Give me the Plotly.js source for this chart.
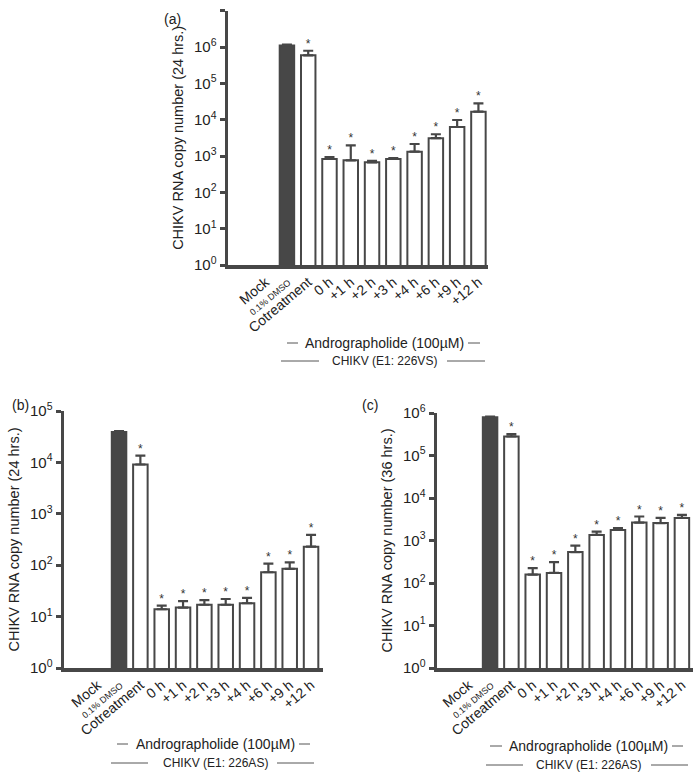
<!DOCTYPE html>
<html><head><meta charset="utf-8">
<script src="https://cdn.plot.ly/plotly-3.0.1.min.js"></script>
<style>body{margin:0;padding:0;background:#fff}#chart{width:697px;height:773px}</style>
</head><body><div id="chart"></div>
<script>
// ---- data ----
const categories = ["Mock","0.1% DMSO","Cotreatment","0 h","+1 h","+2 h","+3 h","+4 h","+6 h","+9 h","+12 h"];
const tickLabels = ["Mock","<span style=\"font-size:9px\">0.1% DMSO</span>","Cotreatment","0 h","+1 h","+2 h","+3 h","+4 h","+6 h","+9 h","+12 h"];
const significance = ["","","*","*","*","*","*","*","*","*","*"];

const meanA = [null, 1.1e6, 5.9e5, 830, 760, 670, 830, 1320, 3100, 6300, 16600];
const errA  = [null, 6e4,   2e5,   110, 1200, 70,  40,  820,  870,  3500, 11400];

const meanB = [null, 3.9e4, 9100, 13.9, 15, 17, 17, 18.2, 73, 85, 229];
const errB  = [null, 1500,  4400, 2.5,  5,  4,  5,  5,    34, 28, 160];

const meanC = [null, 7.9e5, 2.8e5, 158, 173, 535, 1350, 1770, 2640, 2570, 3400];
const errC  = [null, 3e4,   4e4,   67,  137, 225, 270,  190,  1030, 830,  600];

const yTitleA = "CHIKV RNA copy number (24 hrs.)";
const yTitleB = "CHIKV RNA copy number (24 hrs.)";
const yTitleC = "CHIKV RNA copy number (36 hrs.)";
const drugLabel = "Andrographolide (100µM)";
const virusA = "CHIKV (E1: 226VS)";
const virusB = "CHIKV (E1: 226AS)";
const virusC = "CHIKV (E1: 226AS)";

// ---- layout helpers ----
const W = 697, H = 773;
const px = x => x / W;
const py = y => 1 - y / H;
const DARK = "#474747";
const FONT = "Liberation Sans, Arial, sans-serif";

function panelTraces(mean, err, xa, ya) {
  const colors = categories.map((c, i) => i === 1 ? DARK : "#ffffff");
  const bar = {
    type: "bar", x: categories, y: mean, xaxis: xa, yaxis: ya,
    width: 0.68,
    marker: {color: colors, line: {color: DARK, width: 2}},
    error_y: {type: "data", symmetric: false, array: err, arrayminus: err.map(() => 0),
              color: DARK, thickness: 2.2, width: 5},
    showlegend: false, hoverinfo: "x+y"
  };
  const idx = categories.map((c, i) => i).filter(i => significance[i]);
  const stars = {
    type: "scatter", mode: "text",
    x: idx.map(i => categories[i]),
    y: idx.map(i => mean[i] + err[i]),
    text: idx.map(i => significance[i]), textposition: "top center",
    textfont: {size: 12, color: "#333", family: FONT},
    xaxis: xa, yaxis: ya, showlegend: false, hoverinfo: "skip", cliponaxis: false
  };
  return [bar, stars];
}

function xAxis(domain, range) {
  return {
    domain: domain, type: "category", range: range,
    categoryorder: "array", categoryarray: categories,
    tickvals: categories, ticktext: tickLabels, tickangle: -40,
    ticks: "", showgrid: false, zeroline: false,
    showline: true, linecolor: DARK, linewidth: 3.5,
    tickfont: {size: 14, family: FONT, color: "#222"}, automargin: false
  };
}
function yAxis(domain, maxExp, anchor, title) {
  const vals = [], txt = [];
  for (let e = 0; e <= maxExp; e++) { vals.push(Math.pow(10, e)); txt.push("10<sup>" + e + "</sup>"); }
  return {
    domain: domain, type: "log", range: [0, maxExp], anchor: anchor,
    tickvals: vals, ticktext: txt, ticks: "outside", ticklen: 5, tickwidth: 3, tickcolor: DARK,
    showgrid: false, zeroline: false, showline: true, linecolor: DARK, linewidth: 3.5,
    tickfont: {size: 15, family: FONT, color: "#222"}, automargin: false,
    title: {text: title, font: {size: 14.5, family: FONT, color: "#222"}, standoff: 8}
  };
}

const traces = [].concat(
  panelTraces(meanA, errA, "x", "y"),
  panelTraces(meanB, errB, "x2", "y2"),
  panelTraces(meanC, errC, "x3", "y3")
);

const annotations = [];
const shapes = [];
function caption(cx, y1, y2, l1, l2, text2) {
  annotations.push({xref: "paper", yref: "paper", x: px(cx), y: py(y1), text: drugLabel, showarrow: false,
    font: {size: 14, family: FONT, color: "#222"}, xanchor: "center", yanchor: "middle"});
  annotations.push({xref: "paper", yref: "paper", x: px(cx), y: py(y2), text: text2, showarrow: false,
    font: {size: 12, family: FONT, color: "#222"}, xanchor: "center", yanchor: "middle"});
  [[l1[0], l1[1], y1], [l1[2], l1[3], y1], [l2[0], l2[1], y2], [l2[2], l2[3], y2]].forEach(s => {
    shapes.push({type: "line", xref: "paper", yref: "paper", x0: px(s[0]), x1: px(s[1]), y0: py(s[2]), y1: py(s[2]),
      line: {color: "#555", width: 1}});
  });
}
caption(384, 343, 361, [287, 298, 468, 480], [281, 319, 447, 485], virusA);
caption(215, 744, 763, [117, 128, 299, 310], [111, 148, 277, 314], virusB);
caption(588, 746, 765, [490, 502, 672, 683], [486, 523, 651, 688], virusC);

annotations.push({xref: "paper", yref: "paper", x: px(162), y: py(9), text: "(a)", showarrow: false,
  font: {size: 14, family: FONT, color: "#222"}});
annotations.push({xref: "paper", yref: "paper", x: px(10), y: py(405), text: "(b)", showarrow: false,
  font: {size: 14, family: FONT, color: "#222"}});
annotations.push({xref: "paper", yref: "paper", x: px(370), y: py(405), text: "(c)", showarrow: false,
  font: {size: 14, family: FONT, color: "#222"}});

const layout = {
  width: W, height: H, margin: {l: 0, r: 0, t: 0, b: 0},
  paper_bgcolor: "#fff", plot_bgcolor: "#fff",
  font: {family: FONT, color: "#222"},
  bargap: 0.3,
  xaxis: Object.assign(xAxis([px(228), px(488)], [-1.77, 10.45]), {anchor: "y"}),
  yaxis: yAxis([py(265), py(10.7)], 7, "x", yTitleA),
  xaxis2: Object.assign(xAxis([px(64), px(323)], [-1.58, 10.56]), {anchor: "y2"}),
  yaxis2: yAxis([py(668), py(411)], 5, "x2", yTitleB),
  xaxis3: Object.assign(xAxis([px(437), px(693)], [-1.49, 10.52]), {anchor: "y3"}),
  yaxis3: yAxis([py(668), py(413)], 6, "x3", yTitleC),
  annotations: annotations, shapes: shapes, showlegend: false
};

Plotly.newPlot("chart", traces, layout, {displayModeBar: false, staticPlot: true});
</script></body></html>
